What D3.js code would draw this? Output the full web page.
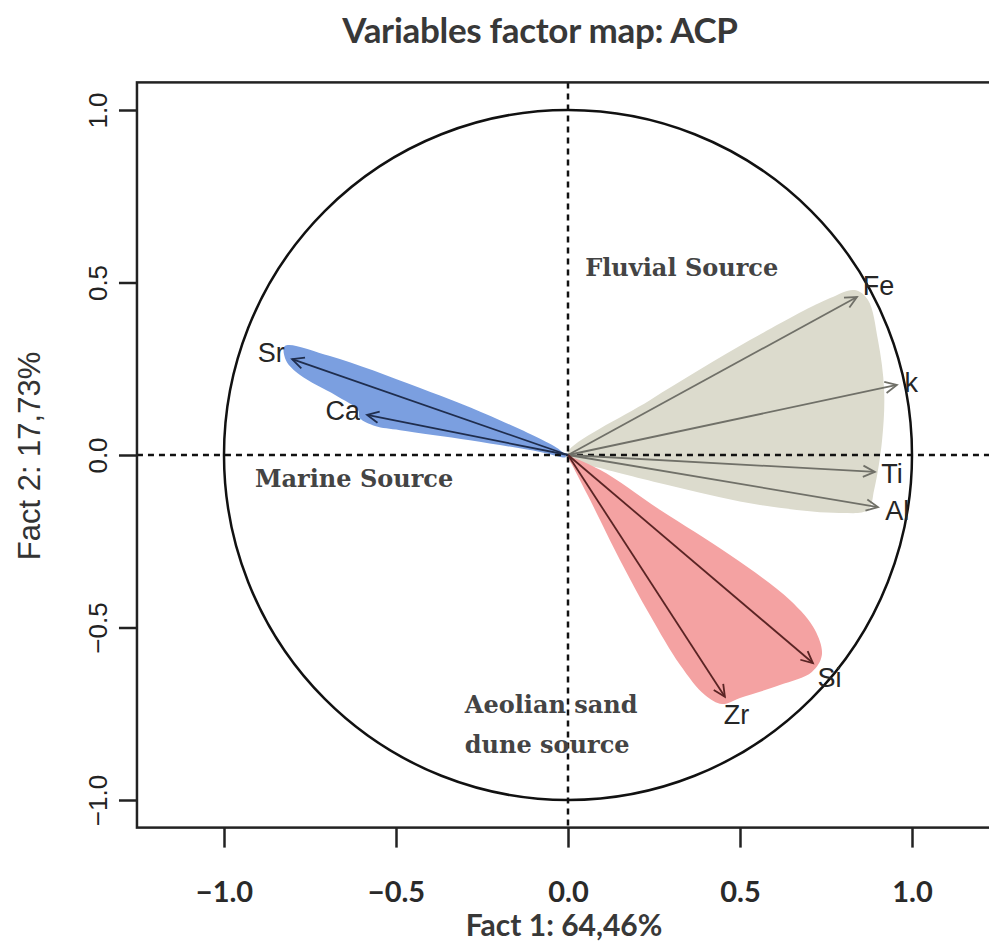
<!DOCTYPE html>
<html>
<head>
<meta charset="utf-8">
<script src="https://cdn.jsdelivr.net/npm/d3@7"></script>
<style>
  body { margin: 0; background: #fff; }
  svg { display: block; }
</style>
</head>
<body>
<svg id="chart" width="989" height="945"></svg>
<script>
// variables and their coordinates on the first two factors
var varNames = ["Fe", "k", "Ti", "Al", "Si", "Zr", "Sr", "Ca"];
var dim1 = [0.840, 0.956, 0.892, 0.901, 0.712, 0.456, -0.802, -0.584];
var dim2 = [0.458, 0.203, -0.049, -0.151, -0.603, -0.701, 0.278, 0.116];
var varGroup = ["fluvial", "fluvial", "fluvial", "fluvial", "aeolian", "aeolian", "marine", "marine"];

var tickValues = [-1.0, -0.5, 0.0, 0.5, 1.0];

// hand drawn envelopes round each group (factor coordinates)
var marineHull = [[-0.823, 0.316], [-0.692, 0.287], [-0.430, 0.194], [-0.198, 0.101], [-0.023, 0.014],
  [-0.006, -0.006], [-0.081, 0.009], [-0.285, 0.043], [-0.488, 0.072], [-0.561, 0.084],
  [-0.605, 0.107], [-0.610, 0.130], [-0.677, 0.174], [-0.779, 0.232], [-0.820, 0.275]];
var fluvialHull = [[0, 0.009], [0.238, 0.159], [0.529, 0.333], [0.762, 0.455], [0.834, 0.478],
  [0.872, 0.449], [0.901, 0.333], [0.919, 0.188], [0.913, 0.043], [0.890, -0.101],
  [0.872, -0.159], [0.791, -0.168], [0.558, -0.145], [0.326, -0.096], [0.093, -0.038], [0.006, -0.014]];
var aeolianHull = [[0, -0.006], [0.093, -0.043], [0.267, -0.159], [0.471, -0.290], [0.645, -0.420],
  [0.718, -0.507], [0.738, -0.580], [0.709, -0.629], [0.616, -0.667], [0.500, -0.704],
  [0.448, -0.722], [0.398, -0.696], [0.326, -0.609], [0.238, -0.464], [0.151, -0.304],
  [0.064, -0.130], [0.012, -0.029]];

var regionNames = ["Fluvial Source", "Marine Source", "Aeolian sand", "dune source"];
var regionX = [0.05, -0.91, -0.30, -0.30];
var regionY = [0.52, -0.093, -0.748, -0.864];

var FILL = { fluvial: "#dcdbcd", marine: "#7b9fe0", aeolian: "#f4a2a2" };
var ARROW = { fluvial: "#707068", marine: "#1f2d4d", aeolian: "#5a2424" };

var svg = d3.select("#chart");

var x = d3.scaleLinear().domain([-1, 1]).range([224, 912]);
var y = d3.scaleLinear().domain([-1, 1]).range([800, 110]);

var xMin = -1.253, xMax = 1.253, yMin = -1.08, yMax = 1.08;

// title
svg.append("text")
    .attr("x", 540).attr("y", 43)
    .attr("text-anchor", "middle")
    .style("font-family", "Lato, 'Open Sans', sans-serif")
    .style("font-weight", "bold")
    .style("font-size", "35px")
    .style("letter-spacing", "-0.3px")
    .style("fill", "#383838")
    .text("Variables factor map: ACP");

// envelopes
var hullLine = d3.line()
    .x(function(d) { return x(d[0]); })
    .y(function(d) { return y(d[1]); })
    .curve(d3.curveCatmullRomClosed.alpha(0.5));

[["fluvial", fluvialHull], ["marine", marineHull], ["aeolian", aeolianHull]].forEach(function(h) {
  svg.append("path")
      .attr("d", hullLine(h[1]))
      .style("fill", FILL[h[0]])
      .style("stroke", "none");
});

// dashed axes through the origin
svg.append("line")
    .attr("x1", x(xMin)).attr("x2", x(xMax))
    .attr("y1", y(0)).attr("y2", y(0))
    .style("stroke", "#111").style("stroke-width", 2.5)
    .style("stroke-dasharray", "6,5");
svg.append("line")
    .attr("x1", x(0)).attr("x2", x(0))
    .attr("y1", y(yMax)).attr("y2", y(yMin))
    .style("stroke", "#111").style("stroke-width", 2.5)
    .style("stroke-dasharray", "6,5");

// correlation circle
svg.append("ellipse")
    .attr("cx", x(0)).attr("cy", y(0))
    .attr("rx", x(1) - x(0)).attr("ry", y(0) - y(1))
    .style("fill", "none")
    .style("stroke", "#111")
    .style("stroke-width", 2.5);

// region captions
svg.selectAll("text.region")
    .data(regionNames)
  .enter().append("text")
    .attr("class", "region")
    .attr("x", function(d, i) { return x(regionX[i]); })
    .attr("y", function(d, i) { return y(regionY[i]); })
    .style("font-family", "'DejaVu Serif', serif")
    .style("font-weight", "bold")
    .style("font-size", "24px")
    .style("fill", "#444")
    .text(function(d) { return d; });

// arrows
var vars = varNames.map(function(n, i) {
  return { name: n, x: dim1[i], y: dim2[i], g: varGroup[i] };
});

function arrowHead(d) {
  var x0 = x(0), y0 = y(0), x1 = x(d.x), y1 = y(d.y);
  var a = Math.atan2(y1 - y0, x1 - x0), len = 13, sp = Math.PI / 7;
  return "M" + (x1 - len * Math.cos(a - sp)) + "," + (y1 - len * Math.sin(a - sp)) +
         "L" + x1 + "," + y1 +
         "L" + (x1 - len * Math.cos(a + sp)) + "," + (y1 - len * Math.sin(a + sp));
}

var gv = svg.append("g");
gv.selectAll("line.arrow")
    .data(vars)
  .enter().append("line")
    .attr("class", "arrow")
    .attr("x1", x(0)).attr("y1", y(0))
    .attr("x2", function(d) { return x(d.x); })
    .attr("y2", function(d) { return y(d.y); })
    .style("stroke", function(d) { return ARROW[d.g]; })
    .style("stroke-width", 1.8);
gv.selectAll("path.head")
    .data(vars)
  .enter().append("path")
    .attr("class", "head")
    .attr("d", arrowHead)
    .style("fill", "none")
    .style("stroke", function(d) { return ARROW[d.g]; })
    .style("stroke-width", 1.8);

// labels pushed outwards along each arrow, clear of the tip
var labels = gv.selectAll("text.var")
    .data(vars)
  .enter().append("text")
    .attr("class", "var")
    .attr("dy", "0.36em")
    .attr("text-anchor", "middle")
    .style("font-family", "'Liberation Sans', Arial, sans-serif")
    .style("font-size", "27px")
    .style("fill", "#262626")
    .text(function(d) { return d.name; });

labels.each(function(d) {
  var px = x(d.x) - x(0), py = y(d.y) - y(0), l = Math.sqrt(px * px + py * py);
  var hw = this.getComputedTextLength() / 2;
  var off = hw * Math.abs(px / l) + 10 * Math.abs(py / l) + 6;
  d3.select(this)
      .attr("x", x(d.x) + off * px / l)
      .attr("y", y(d.y) + off * py / l);
});

// frame
svg.append("rect")
    .attr("x", x(xMin)).attr("y", y(yMax))
    .attr("width", x(xMax) - x(xMin))
    .attr("height", y(yMin) - y(yMax))
    .style("fill", "none")
    .style("stroke", "#222")
    .style("stroke-width", 2.5);

// axes
var xAxis = svg.append("g")
    .attr("transform", "translate(0," + y(yMin) + ")")
    .call(d3.axisBottom(x).tickValues(tickValues).tickSize(20).tickPadding(34)
          .tickFormat(d3.format(".1f")));
xAxis.select(".domain").remove();
xAxis.selectAll(".tick line").style("stroke", "#222").style("stroke-width", 2.5);
xAxis.selectAll(".tick text")
    .style("font-family", "Lato, 'Open Sans', sans-serif")
    .style("font-weight", "bold")
    .style("font-size", "29px")
    .style("fill", "#2a2a2a");

var yAxis = svg.append("g")
    .attr("transform", "translate(" + x(xMin) + ",0)")
    .call(d3.axisLeft(y).tickValues(tickValues).tickSize(18)
          .tickFormat(d3.format(".1f")));
yAxis.select(".domain").remove();
yAxis.selectAll(".tick line").style("stroke", "#222").style("stroke-width", 2.5);
// rotate each tick label around its own position
yAxis.selectAll(".tick text")
    .attr("x", 0).attr("y", 0).attr("dy", 0)
    .attr("transform", "translate(-30,0) rotate(-90)")
    .attr("text-anchor", "middle")
    .style("font-family", "'Liberation Sans', Arial, sans-serif")
    .style("font-size", "26px")
    .style("fill", "#222");

// axis titles
svg.append("text")
    .attr("x", 564).attr("y", 936)
    .attr("text-anchor", "middle")
    .style("font-family", "Lato, 'Open Sans', sans-serif")
    .style("font-weight", "bold")
    .style("font-size", "30px")
    .style("fill", "#383838")
    .text("Fact 1: 64,46%");

svg.append("text")
    .attr("transform", "translate(40,456) rotate(-90)")
    .attr("text-anchor", "middle")
    .style("font-family", "'Liberation Sans', Arial, sans-serif")
    .style("font-size", "31px")
    .style("fill", "#333")
    .text("Fact 2: 17,73%");
</script>
</body>
</html>
